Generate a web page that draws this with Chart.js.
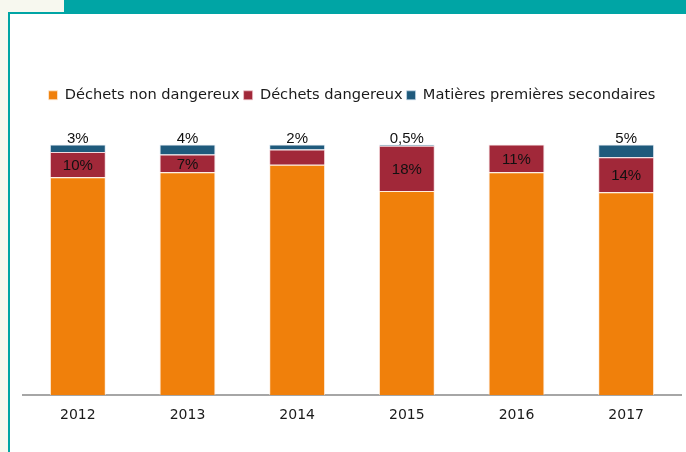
<!DOCTYPE html>
<html>
<head>
<meta charset="utf-8">
<script src="https://cdn.jsdelivr.net/npm/chart.js@4.4.1/dist/chart.umd.min.js"></script>
<style>
  body { margin:0; width:686px; height:452px; background:#fff; position:relative; overflow:hidden; }
  #cream { position:absolute; left:0; top:0; width:9px; height:452px; background:#f7f8ef; }
  #creamTop { position:absolute; left:0; top:0; width:64px; height:12px; background:#f7f8ef; }
  #bar { position:absolute; left:64px; top:0; width:622px; height:13px; background:#00a5a5; }
  #lineTop { position:absolute; left:8px; top:12px; width:678px; height:2px; background:#00a5a5; }
  #lineLeft { position:absolute; left:8px; top:12px; width:2px; height:440px; background:#00a5a5; }
  #wrap { position:absolute; left:12px; top:14px; }
</style>
</head>
<body>
<div id="cream"></div><div id="creamTop"></div><div id="bar"></div>
<div id="lineTop"></div><div id="lineLeft"></div>
<div id="wrap"><canvas id="chart" width="674" height="438"></canvas></div>
<script>
var annees = ['2012','2013','2014','2015','2016','2017']
var nonDangereux = [87, 89, 92, 81.5, 89, 81]
var dangereux = [10, 7, 6, 18, 11, 14]
var matieres = [3, 4, 2, 0.5, 0, 5]
var etiquettesDangereux = ['10%','7%','','18%','11%','14%']
var etiquettesMatieres = ['3%','4%','2%','0,5%','','5%']

// labels drawn by hand, no datalabels plugin available
var etiquettes = {
  id: 'etiquettes',
  afterDatasetsDraw: function(chart){
    var ctx = chart.ctx
    ctx.save()
    ctx.font = '15px "Liberation Sans", Arial, sans-serif'
    ctx.fillStyle = '#111'
    ctx.textAlign = 'center'
    var rouge = chart.getDatasetMeta(1).data
    var bleu = chart.getDatasetMeta(2).data
    rouge.forEach(function(b, i){
      if (!etiquettesDangereux[i]) return
      ctx.textBaseline = 'middle'
      ctx.fillText(etiquettesDangereux[i], b.x, (b.y + b.base)/2 + 1)
    })
    bleu.forEach(function(b, i){
      if (!etiquettesMatieres[i]) return
      ctx.textBaseline = 'bottom'
      ctx.fillText(etiquettesMatieres[i], b.x, chart.scales.y.getPixelForValue(100) + 2)
    })
    ctx.restore()
  }
}

var ecartLegende = {
  id: 'ecartLegende',
  beforeInit: function(chart){
    var fit = chart.legend.fit
    chart.legend.fit = function(){
      fit.bind(chart.legend)()
      this.height += 32
    }
  }
}

new Chart(document.getElementById('chart').getContext('2d'), {
  type: 'bar',
  data: {
    labels: annees,
    datasets: [
      { label: 'Déchets non dangereux', data: nonDangereux, backgroundColor: '#f0800b', borderColor: 'rgba(255,235,215,0.8)', borderWidth: 1 },
      { label: 'Déchets dangereux', data: dangereux, backgroundColor: '#a12839', borderColor: 'rgba(240,200,205,0.7)', borderWidth: 1 },
      { label: 'Matières premières secondaires', data: matieres, backgroundColor: '#1f5a7c', borderColor: 'rgba(200,220,235,0.7)', borderWidth: 1 }
    ]
  },
  options: {
    responsive: false,
    animation: false,
    barPercentage: 0.51,
    categoryPercentage: 1,
    layout: { padding: { top: 70, bottom: 16, left: 11, right: 5 } },
    plugins: {
      legend: {
        position: 'top',
        labels: {
          boxWidth: 9, boxHeight: 9, padding: 4,
          color: '#1a1a1a',
          font: { family: '"DejaVu Sans", Verdana, sans-serif', size: 14.6 }
        }
      },
      tooltip: { enabled: false }
    },
    scales: {
      x: {
        stacked: true,
        grid: { display: false, drawTicks: false },
        border: { color: '#a6a6a6', width: 2 },
        ticks: { padding: 12, color: '#1a1a1a', font: { family: '"DejaVu Sans", Verdana, sans-serif', size: 14 } }
      },
      y: {
        stacked: true,
        display: false,
        min: 0,
        max: 100
      }
    }
  },
  plugins: [etiquettes, ecartLegende]
})
</script>
</body>
</html>
